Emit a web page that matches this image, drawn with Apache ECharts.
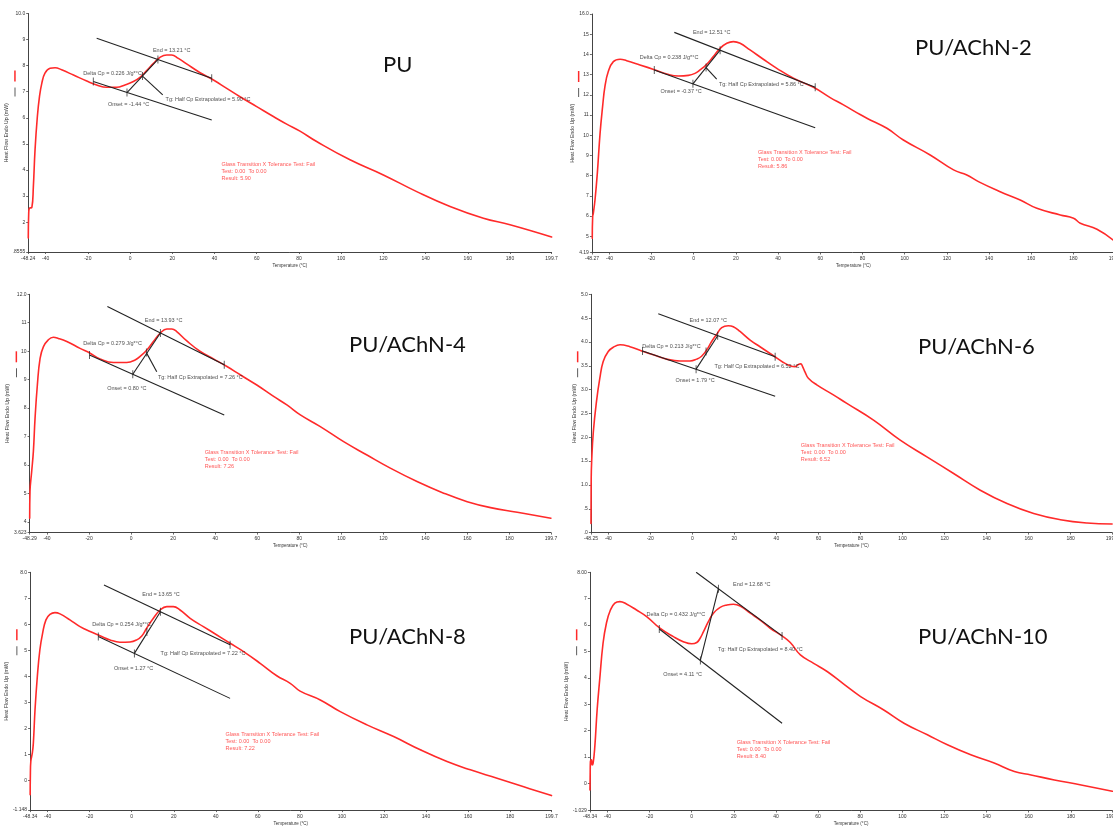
<!DOCTYPE html>
<html><head><meta charset="utf-8">
<script src="https://cdn.jsdelivr.net/npm/echarts@6/dist/echarts.min.js"></script>
<style>html,body{margin:0;padding:0;background:#fff}#c{width:1113px;height:826px}</style>
</head><body><div id="c"></div>
<script>
// ================= DATA =================
const titles = ['PU', 'PU/AChN-2', 'PU/AChN-4', 'PU/AChN-6', 'PU/AChN-8', 'PU/AChN-10'];
const xMins = [-48.24, -48.27, -48.29, -48.25, -48.34, -48.34];
const xMax = 199.7;
const xTickVals = [-40, -20, 0, 20, 40, 60, 80, 100, 120, 140, 160, 180];
const yMins = [0.8555, 4.19, 3.623, 0, -1.148, -1.029];
const yMaxs = [10, 16, 12, 5, 8, 8];
const yMinLabels = ['.8555', '4.19', '3.623', '.0', '-1.148', '-1.029'];
const yMaxLabels = ['10.0', '16.0', '12.0', '5.0', '8.0', '8.00'];
const yTicksPU = [2, 3, 4, 5, 6, 7, 8, 9];
const yTicksA2 = [5, 6, 7, 8, 9, 10, 11, 12, 13, 14, 15];
const yTicksA4 = [4, 5, 6, 7, 8, 9, 10, 11];
const yTicksA6 = [0.5, 1, 1.5, 2, 2.5, 3, 3.5, 4, 4.5];
const yTicksA8 = [0, 1, 2, 3, 4, 5, 6, 7];
const yTicksA10 = [0, 1, 2, 3, 4, 5, 6, 7];

// heat-flow curves [temperature °C, heat flow mW]
const curvePU = [[-48.2,1.39],[-48.0,2.34],[-47.7,2.53],[-46.5,2.57],[-45.8,3.36],[-45.0,4.77],[-43.9,6.05],[-42.9,6.81],[-41.8,7.32],[-40.3,7.71],[-37.9,7.90],[-35.5,7.92],[-32.4,7.84],[-26.8,7.64],[-20.5,7.41],[-15.8,7.26],[-11.1,7.17],[-6.3,7.17],[-2.4,7.26],[1.6,7.39],[4.7,7.55],[7.9,7.81],[11.1,8.09],[14.2,8.32],[17.4,8.41],[19.7,8.41],[22.9,8.28],[26.8,8.07],[33.2,7.73],[39.5,7.45],[45.8,7.13],[52.1,6.81],[60,6.43],[67.9,6.05],[74.2,5.76],[80.5,5.49],[88.4,5.09],[104.2,4.39],[120,3.81],[135.8,3.17],[151.6,2.60],[167.4,2.15],[180,1.90],[199.7,1.43]];
const curveA2 = [[-48.1,4.89],[-47.9,5.97],[-47.6,6.13],[-46.8,6.79],[-45.7,8.11],[-44.4,10.09],[-43.2,11.41],[-42.1,12.40],[-40.5,13.15],[-38.1,13.64],[-34.9,13.76],[-31.8,13.69],[-25.5,13.48],[-18.3,13.23],[-12.8,13.03],[-7.3,12.93],[-2.5,12.96],[0.6,13.06],[3.0,13.23],[5.9,13.48],[9.3,13.89],[12.5,14.30],[15.7,14.55],[18.8,14.63],[22.0,14.55],[26.7,14.22],[33.0,13.76],[39.4,13.31],[47.3,12.82],[56.8,12.37],[64.7,11.86],[71,11.5],[78.9,11.02],[82.1,10.84],[91.6,10.34],[99.4,9.76],[112.1,9.02],[123.2,8.28],[129.5,8.03],[135,7.70],[145.3,7.20],[154.8,6.79],[162.7,6.38],[173.8,6.05],[180.1,5.89],[183.3,5.64],[191.2,5.34],[198.8,4.81]];
const curveA4 = [[-48.25,4.13],[-48.1,5.07],[-47.3,5.77],[-46.5,6.47],[-45.7,7.64],[-44.6,8.81],[-43.3,9.75],[-41.7,10.16],[-39.4,10.40],[-37,10.49],[-34.6,10.45],[-30.6,10.34],[-24.3,10.10],[-19.5,9.93],[-14.8,9.73],[-8.4,9.60],[-2.1,9.60],[1.9,9.69],[5.1,9.87],[7.5,10.04],[10.6,10.34],[13.8,10.63],[17.0,10.78],[19.4,10.78],[21.7,10.69],[26.5,10.36],[32.9,9.99],[39.2,9.73],[45.6,9.46],[51.9,9.17],[59.8,8.81],[67.8,8.41],[74.1,8.11],[80.5,7.76],[90,7.35],[101.1,6.82],[112.2,6.35],[123.3,5.89],[136,5.42],[148.7,5.01],[159.9,4.71],[171,4.50],[183.7,4.34],[199.7,4.13]];
const curveA6 = [[-48.2,0.19],[-48.1,1.13],[-47.9,1.48],[-47.1,2.11],[-45.6,2.75],[-44,3.24],[-42.4,3.59],[-40,3.80],[-37.6,3.89],[-34.4,3.94],[-29.7,3.90],[-24.1,3.81],[-18.6,3.73],[-12.2,3.64],[-5.9,3.60],[-1.1,3.60],[2.1,3.64],[4.4,3.70],[6.8,3.83],[9.2,4.01],[11.6,4.16],[14,4.30],[17.1,4.34],[19.5,4.32],[22.7,4.22],[27.5,4.04],[32.2,3.90],[38.6,3.71],[43.3,3.57],[46.5,3.50],[48.9,3.48],[50.5,3.53],[51.6,3.54],[52.4,3.49],[53.7,3.36],[55.2,3.24],[59.2,3.10],[67.1,2.89],[73.5,2.71],[86.2,2.36],[98.9,1.94],[111.6,1.59],[124.3,1.24],[137,0.89],[149.7,0.61],[162.4,0.40],[175.1,0.27],[187.8,0.20],[199.7,0.18]];
const curveA8 = [[-48.3,-0.56],[-48.2,0.27],[-48.0,0.72],[-47.3,1.04],[-46.8,1.42],[-46,2.71],[-44.9,3.99],[-43.7,5.01],[-42.4,5.65],[-40.8,6.17],[-38.9,6.38],[-36.5,6.45],[-34.1,6.40],[-29.4,6.17],[-24.6,5.91],[-19.8,5.72],[-15.1,5.56],[-10.3,5.40],[-5.6,5.31],[-0.8,5.32],[2.4,5.40],[4.8,5.55],[7.1,5.85],[10.3,6.23],[13.5,6.55],[16.7,6.68],[19.8,6.68],[23.0,6.55],[27.8,6.23],[34.1,5.91],[40.5,5.59],[46.8,5.27],[53.2,4.95],[61.1,4.50],[69.0,4.02],[75.4,3.73],[80.1,3.43],[89.7,3.09],[99.2,2.64],[111.9,2.13],[124.6,1.68],[137.3,1.17],[150,0.72],[161.1,0.40],[173.8,0.08],[186.5,-0.25],[199.7,-0.59]];
const curveA10 = [[-48.3,-0.25],[-48.2,0.39],[-48.1,0.83],[-47.6,0.89],[-47.3,0.70],[-46.8,0.77],[-46,1.40],[-44.9,2.79],[-43.7,3.92],[-42.1,5.31],[-40.5,6.07],[-38.6,6.57],[-36.5,6.83],[-34.1,6.89],[-31,6.80],[-26.2,6.57],[-21.4,6.32],[-15.1,5.88],[-8.7,5.56],[-4.0,5.37],[0,5.29],[2.4,5.34],[4.0,5.50],[5.6,5.75],[7.9,6.13],[10.3,6.45],[13.5,6.67],[16.7,6.76],[19.8,6.79],[23.0,6.72],[27.8,6.45],[32.5,6.19],[37.3,5.88],[42.9,5.59],[46.8,5.34],[51.6,4.87],[57.9,4.55],[64.3,4.24],[72.2,3.76],[80.2,3.29],[91.2,2.78],[100.8,2.28],[111.9,1.84],[121.4,1.46],[132.5,1.08],[143.6,0.77],[153.2,0.45],[161.1,0.32],[172.2,0.13],[184.9,-0.06],[199.7,-0.30]];

// glass-transition construction lines: [upper baseline, lower baseline, onset->end, leader]
const upperPU = [[-15.8,9.05],[38.7,7.52]];   const lowerPU = [[-17.4,7.39],[38.7,5.92]];
const stepPU = [[-1.44,6.97],[13.21,8.24]];    const leaderPU = [[5.90,7.60],[15.5,6.88]];
const marksPU = [[-17.4,7.39],[-1.44,6.97],[5.90,7.60],[13.21,8.24],[38.7,7.52]];
const upperA2 = [[-9.2,15.09],[57.6,12.37]];   const lowerA2 = [[-18.7,13.23],[57.6,10.37]];
const stepA2 = [[-0.37,12.54],[12.51,14.21]];  const leaderA2 = [[5.86,13.35],[10.9,12.77]];
const marksA2 = [[-18.7,13.23],[-0.37,12.54],[5.86,13.35],[12.51,14.21],[57.6,12.37]];
const upperA4 = [[-11.3,11.57],[44.3,9.52]];   const lowerA4 = [[-19.8,9.87],[44.3,7.76]];
const stepA4 = [[0.80,9.19],[13.93,10.64]];    const leaderA4 = [[7.26,9.95],[12.2,9.28]];
const marksA4 = [[-19.8,9.87],[0.80,9.19],[7.26,9.95],[13.93,10.64],[44.3,9.52]];
const upperA6 = [[-16.2,4.59],[39.4,3.69]];    const lowerA6 = [[-23.7,3.81],[39.4,2.86]];
const stepA6 = [[1.79,3.43],[12.07,4.13]];     const leaderA6 = [];
const marksA6 = [[-23.7,3.81],[1.79,3.43],[6.52,3.80],[12.07,4.13],[39.4,3.69]];
const upperA8 = [[-13.2,7.51],[46.8,5.21]];    const lowerA8 = [[-15.9,5.53],[46.8,3.15]];
const stepA8 = [[1.27,4.88],[13.65,6.48]];     const leaderA8 = [];
const marksA8 = [[-15.9,5.53],[1.27,4.88],[7.22,5.70],[13.65,6.48],[46.8,5.21]];
const upperA10 = [[2.1,8.0],[42.9,5.59]];      const lowerA10 = [[-15.4,5.85],[42.9,2.28]];
const stepA10 = [[4.11,4.66],[12.68,7.38]];    const leaderA10 = [];
const marksA10 = [[-15.4,5.85],[4.11,4.66],[12.68,7.38],[42.9,5.59]];

// annotation texts and anchors (left-middle of each text)
const notesPU = ['End = 13.21 °C', 'Delta Cp = 0.226 J/g*°C', 'Onset = -1.44 °C', 'Tg: Half Cp Extrapolated = 5.90 °C'];
const notesAtPU = [[10.6,8.6],[-22.4,7.7],[-10.7,6.53],[16.6,6.72]];
const notesA2 = ['End = 12.51 °C', 'Delta Cp = 0.238 J/g*°C', 'Onset = -0.37 °C', 'Tg: Half Cp Extrapolated = 5.86 °C'];
const notesAtA2 = [[-0.6,15.1],[-25.8,13.85],[-16,12.16],[11.7,12.53]];
const notesA4 = ['End = 13.93 °C', 'Delta Cp = 0.279 J/g*°C', 'Onset = 0.80 °C', 'Tg: Half Cp Extrapolated = 7.26 °C'];
const notesAtA4 = [[6.3,11.07],[-23,10.26],[-11.6,8.70],[12.5,9.08]];
const notesA6 = ['End = 12.07 °C', 'Delta Cp = 0.213 J/g*°C', 'Onset = 1.79 °C', 'Tg: Half Cp Extrapolated = 6.52 °C'];
const notesAtA6 = [[-1.6,4.46],[-24.1,3.91],[-8.3,3.19],[10.3,3.48]];
const notesA8 = ['End = 13.65 °C', 'Delta Cp = 0.254 J/g*°C', 'Onset = 1.27 °C', 'Tg: Half Cp Extrapolated = 7.22 °C'];
const notesAtA8 = [[4.8,7.15],[-19,6.0],[-8.7,4.31],[13.5,4.86]];
const notesA10 = ['End = 12.68 °C', 'Delta Cp = 0.432 J/g*°C', 'Onset = 4.11 °C', 'Tg: Half Cp Extrapolated = 8.40 °C'];
const notesAtA10 = [[19.4,7.52],[-21.7,6.41],[-13.8,4.11],[12.2,5.06]];

const results = ['5.90', '5.86', '7.26', '6.52', '7.22', '8.40'];
const resultAt = [[43.1,3.94],[30.2,8.82],[34.8,6.20],[51.4,1.69],[44.4,1.48],[21.1,1.27]];

// ================= BUILD =================
const FONT = '"Liberation Sans", Arial, sans-serif';
const RED = '#ff2a2a';
const BLK = '#222';
const panels = [
  {curve: curvePU, up: upperPU, lo: lowerPU, step: stepPU, lead: leaderPU, marks: marksPU, notes: notesPU, at: notesAtPU, yt: yTicksPU},
  {curve: curveA2, up: upperA2, lo: lowerA2, step: stepA2, lead: leaderA2, marks: marksA2, notes: notesA2, at: notesAtA2, yt: yTicksA2},
  {curve: curveA4, up: upperA4, lo: lowerA4, step: stepA4, lead: leaderA4, marks: marksA4, notes: notesA4, at: notesAtA4, yt: yTicksA4},
  {curve: curveA6, up: upperA6, lo: lowerA6, step: stepA6, lead: leaderA6, marks: marksA6, notes: notesA6, at: notesAtA6, yt: yTicksA6},
  {curve: curveA8, up: upperA8, lo: lowerA8, step: stepA8, lead: leaderA8, marks: marksA8, notes: notesA8, at: notesAtA8, yt: yTicksA8},
  {curve: curveA10, up: upperA10, lo: lowerA10, step: stepA10, lead: leaderA10, marks: marksA10, notes: notesA10, at: notesAtA10, yt: yTicksA10}
];
// grid boxes (px): left, top, width, height
const boxes = [
  [28.2, 13.5, 523.4, 238.5],
  [591.9, 14.0, 523.0, 238.5],
  [29.6, 294.3, 521.3, 238.3],
  [590.9, 294.3, 521.2, 238.3],
  [30.1, 572.3, 521.4, 237.8],
  [589.9, 572.3, 522.4, 238.2]
];
const titlePos = [[383, 65], [915, 48.3], [349, 345], [918, 346.7], [349, 637.3], [918, 636.7]];

const grids = [], xAxes = [], yAxes = [], series = [], graphics = [];
panels.forEach((p, i) => {
  const [l, t, w, h] = boxes[i];
  grids.push({left: l, top: t, width: w, height: h, containLabel: false, outerBoundsMode: 'none'});
  const xVals = [xMins[i]].concat(xTickVals, [xMax]);
  xAxes.push({
    type: 'value', gridIndex: i, min: xMins[i], max: xMax,
    axisLine: {show: true, onZero: false, lineStyle: {color: '#444', width: 1}},
    axisTick: {show: true, length: 2, customValues: xVals, lineStyle: {color: '#444', width: 0.8}},
    axisLabel: {customValues: xVals, fontSize: 5, color: '#333', fontFamily: FONT, margin: 4,
      formatter: v => v === xMins[i] ? xMins[i].toFixed(2) : (v === xMax ? xMax.toFixed(1) : String(v))},
    splitLine: {show: false},
    name: 'Temperature (°C)', nameLocation: 'middle', nameGap: 11,
    nameTextStyle: {fontSize: 4.5, color: '#333', fontFamily: FONT}
  });
  const yVals = [yMins[i]].concat(p.yt, [yMaxs[i]]);
  yAxes.push({
    type: 'value', gridIndex: i, min: yMins[i], max: yMaxs[i],
    axisLine: {show: true, onZero: false, lineStyle: {color: '#444', width: 1}},
    axisTick: {show: true, length: 2, customValues: yVals, lineStyle: {color: '#444', width: 0.8}},
    axisLabel: {customValues: yVals, fontSize: 5, color: '#333', fontFamily: FONT, margin: 3,
      formatter: v => {
        if (v === yMins[i]) return yMinLabels[i];
        if (v === yMaxs[i]) return yMaxLabels[i];
        if (i === 3) return v < 1 ? '.' + String(v).split('.')[1] : v.toFixed(1);
        return String(v);
      }},
    splitLine: {show: false},
    name: 'Heat Flow Endo Up (mW)', nameLocation: 'middle', nameGap: 10.5,
    nameTextStyle: {fontSize: 5.2, color: '#333', fontFamily: FONT}
  });
  const base = {xAxisIndex: i, yAxisIndex: i, silent: true, animation: false};
  series.push(Object.assign({type: 'line', data: p.curve, showSymbol: false, symbol: 'none',
    smooth: 0.45, lineStyle: {color: RED, width: 1.6, cap: 'round', join: 'round'}, z: 2}, base));
  [p.up, p.lo, p.step, p.lead].forEach(d => {
    if (d.length) series.push(Object.assign({type: 'line', data: d, showSymbol: false, symbol: 'none',
      lineStyle: {color: BLK, width: 1.1}, z: 3}, base));
  });
  series.push(Object.assign({type: 'scatter', data: p.marks, symbol: 'rect', symbolSize: [0.9, 8],
    itemStyle: {color: BLK}, z: 4}, base));
  series.push(Object.assign({type: 'scatter', symbolSize: 1, itemStyle: {color: 'rgba(0,0,0,0)'},
    data: p.notes.map((n, k) => ({name: n, value: p.at[k]})),
    label: {show: true, formatter: '{b}', position: 'right', distance: 0, fontSize: 5.5, color: BLK, fontFamily: FONT}, z: 5}, base));
  series.push(Object.assign({type: 'scatter', symbolSize: 1, itemStyle: {color: 'rgba(0,0,0,0)'},
    data: [{name: 'Glass Transition X Tolerance Test: Fail\nTest: 0.00  To 0.00\nResult: ' + results[i], value: resultAt[i]}],
    label: {show: true, formatter: '{b}', position: 'right', distance: 0, fontSize: 5.5, lineHeight: 7, align: 'left', color: RED, fontFamily: FONT}, z: 5}, base));
  // legend keys beside the y-axis title
  graphics.push({type: 'rect', shape: {x: l - 14, y: t + 57, width: 1.5, height: 11}, style: {fill: RED}, silent: true});
  graphics.push({type: 'rect', shape: {x: l - 13.6, y: t + 74, width: 0.8, height: 9}, style: {fill: '#333'}, silent: true});
  graphics.push({type: 'text', x: titlePos[i][0], y: titlePos[i][1],
    style: {text: titles[i], fill: '#111', font: '22px Lato, "Open Sans", sans-serif', textVerticalAlign: 'middle', textAlign: 'left'}, silent: true});
});

const chart = echarts.init(document.getElementById('c'), null, {renderer: 'canvas'});
chart.setOption({
  animation: false,
  backgroundColor: '#fff',
  textStyle: {fontFamily: FONT},
  grid: grids, xAxis: xAxes, yAxis: yAxes, series: series, graphic: graphics
});
</script></body></html>
